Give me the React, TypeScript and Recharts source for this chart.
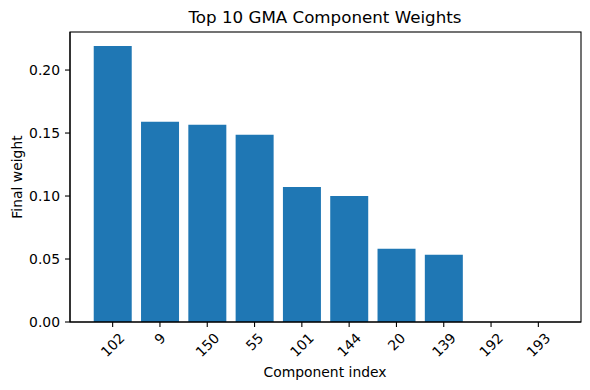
import React from "react";
import { BarChart, Bar, XAxis, YAxis } from "recharts";

const componentIds = ["102", "9", "150", "55", "101", "144", "20", "139", "192", "193"];
const finalWeights = [0.219, 0.159, 0.1566, 0.1487, 0.1072, 0.1, 0.0582, 0.0534, 0, 0];
const weightTicks = [0, 0.05, 0.1, 0.15, 0.2];

const chartData = componentIds.map((id, i) => ({ name: id, weight: finalWeights[i] }));

const FONT = "DejaVu Sans, sans-serif";

const RotatedTick = (props: any) => {
  const { x, y, payload } = props;
  const label = String(payload.value);
  const w = label.length * 8.85;
  const h = 10;
  const cy = y + (w + h) / (2 * Math.SQRT2);
  return (
    <text
      x={x}
      y={cy}
      textAnchor="middle"
      dominantBaseline="central"
      transform={`rotate(-45 ${x} ${cy})`}
      fontSize={13.9}
      fontFamily={FONT}
      fill="#000"
    >
      {label}
    </text>
  );
};

export default function App() {
  return (
    <div style={{ position: "fixed", left: 0, top: 0, width: 590, height: 390, background: "#fff" }}>
      <svg width={590} height={390} style={{ position: "absolute", left: 0, top: 0 }}>
        <text x={325} y={17} textAnchor="middle" dominantBaseline="central" fontSize={16.7} fontFamily={FONT} fill="#000">
          Top 10 GMA Component Weights
        </text>
        <text x={325} y={372} textAnchor="middle" dominantBaseline="central" fontSize={13.9} fontFamily={FONT} fill="#000">
          Component index
        </text>
        <text
          x={17}
          y={177}
          textAnchor="middle"
          dominantBaseline="central"
          transform="rotate(-90 17 177)"
          fontSize={13.9}
          fontFamily={FONT}
          fill="#000"
        >
          Final weight
        </text>
      </svg>
      <div style={{ position: "absolute", left: 0, top: 0 }}>
        <BarChart
          width={590}
          height={390}
          data={chartData}
          margin={{ top: 32, right: 9, left: 10, bottom: 18 }}
          barCategoryGap="10%"
        >
          <XAxis
            dataKey="name"
            height={50}
            interval={0}
            padding={{ left: 19, right: 19 }}
            tickSize={5}
            tickMargin={5}
            tick={<RotatedTick />}
            axisLine={{ stroke: "#000", strokeWidth: 1.1 }}
            tickLine={{ stroke: "#000", strokeWidth: 1.1 }}
          />
          <YAxis
            width={60}
            domain={[0, 0.2302]}
            ticks={weightTicks}
            tickFormatter={(v: number) => v.toFixed(2)}
            tickSize={5}
            tickMargin={5}
            tick={{ fill: "#000", fontSize: 13.9, fontFamily: FONT }}
            axisLine={{ stroke: "#000", strokeWidth: 1.1 }}
            tickLine={{ stroke: "#000", strokeWidth: 1.1 }}
          />
          <Bar dataKey="weight" fill="#1f77b4" isAnimationActive={false} />
        </BarChart>
      </div>
      {/* matplotlib-style frame: top and right spines */}
      <svg width={590} height={390} style={{ position: "absolute", left: 0, top: 0, pointerEvents: "none" }}>
        <rect x={70} y={32} width={511} height={290} fill="none" stroke="#000" strokeWidth={1.1} />
      </svg>
    </div>
  );
}
